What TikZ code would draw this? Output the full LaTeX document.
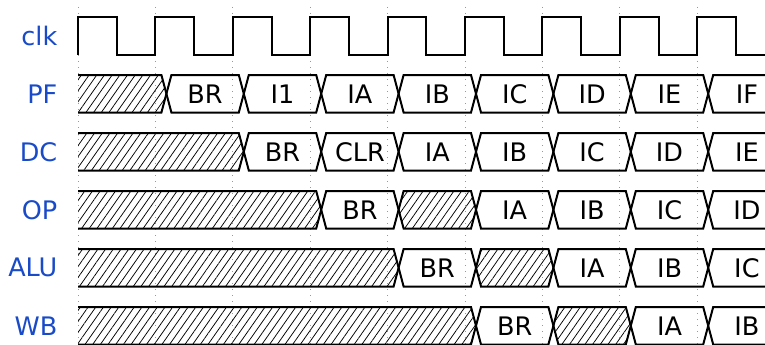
\documentclass[tikz,border=0pt]{standalone}
\usepackage{fontspec}
\setmainfont{DejaVu Sans}
\usetikzlibrary{patterns.meta}
\definecolor{lblblue}{RGB}{25,75,200}
\tikzset{
  sig/.style={line width=2pt, line join=miter},
  hatch/.style={pattern={Lines[angle=55,distance=6.3pt,line width=0.75pt]}},
  lbl/.style={text=lblblue, anchor=east, font=\fontsize{25.5}{30}\selectfont, inner sep=0pt},
  txt/.style={font=\fontsize{25.5}{30}\selectfont, inner sep=0pt},
  gridl/.style={black!40, line width=0.8pt, dash pattern=on 1pt off 5pt}
}
% data cell: #1 name, #2 top y, #3 start transition, #4 end transition, #5 label
\newcommand\dcell[5]{%
  \pgfmathsetmacro\xa{89+#3*77.4}%
  \pgfmathsetmacro\xb{89+#4*77.4}%
  \draw[sig] (\xa,#2+18.75) -- (\xa+5,#2) -- (\xb-5,#2) -- (\xb,#2+18.75) -- (\xb-5,#2+37.5) -- (\xa+5,#2+37.5) -- cycle;
  \node[txt] (#1) at ({(\xa+\xb)/2},#2+18.75) {#5};}
% hatched cell between transitions
\newcommand\hcell[3]{%
  \pgfmathsetmacro\xa{89+#2*77.4}%
  \pgfmathsetmacro\xb{89+#3*77.4}%
  \draw[sig, hatch] (\xa,#1+18.75) -- (\xa+5,#1) -- (\xb-5,#1) -- (\xb,#1+18.75) -- (\xb-5,#1+37.5) -- (\xa+5,#1+37.5) -- cycle;}
% leading hatched cell (open on the left)
\newcommand\hstart[2]{%
  \pgfmathsetmacro\xb{89+#2*77.4}%
  \fill[hatch] (78,#1) -- (\xb-5,#1) -- (\xb,#1+18.75) -- (\xb-5,#1+37.5) -- (78,#1+37.5) -- cycle;
  \draw[sig] (78,#1) -- (\xb-5,#1) -- (\xb,#1+18.75) -- (\xb-5,#1+37.5) -- (78,#1+37.5);}
\begin{document}
\begin{tikzpicture}[x=1pt,y=-1pt]
\useasboundingbox (0,0) rectangle (765,345);
\begin{scope}
\clip (0,0) rectangle (765,345);
% grid
\foreach \k in {0,...,8} \draw[gridl] ({78+\k*77.4},7) -- ({78+\k*77.4},345);
% labels
\node[lbl] (lclk) at (57.5,36) {clk};
\node[lbl] (lpf) at (57.5,93.75) {PF};
\node[lbl] (ldc) at (57.5,151.75) {DC};
\node[lbl] (lop) at (57.5,209.75) {OP};
\node[lbl] (lalu) at (57.5,267.75) {ALU};
\node[lbl] (lwb) at (57.5,325.75) {WB};
% clock
\draw[sig] (78,55) \foreach \k in {0,...,8} { -- ({78+\k*77.4},17) -- ({78+\k*77.4+38.7},17) -- ({78+\k*77.4+38.7},55) -- ({78+(\k+1)*77.4},55) };
% PF
\hstart{75}{1}
\dcell{pf1}{75}{1}{2}{BR}
\dcell{pf2}{75}{2}{3}{I1}
\dcell{pf3}{75}{3}{4}{IA}
\dcell{pf4}{75}{4}{5}{IB}
\dcell{pf5}{75}{5}{6}{IC}
\dcell{pf6}{75}{6}{7}{ID}
\dcell{pf7}{75}{7}{8}{IE}
\dcell{pf8}{75}{8}{9}{IF}
% DC
\hstart{133}{2}
\dcell{dc1}{133}{2}{3}{BR}
\dcell{dc2}{133}{3}{4}{CLR}
\dcell{dc3}{133}{4}{5}{IA}
\dcell{dc4}{133}{5}{6}{IB}
\dcell{dc5}{133}{6}{7}{IC}
\dcell{dc6}{133}{7}{8}{ID}
\dcell{dc7}{133}{8}{9}{IE}
% OP
\hstart{191}{3}
\dcell{op1}{191}{3}{4}{BR}
\hcell{191}{4}{5}
\dcell{op2}{191}{5}{6}{IA}
\dcell{op3}{191}{6}{7}{IB}
\dcell{op4}{191}{7}{8}{IC}
\dcell{op5}{191}{8}{9}{ID}
% ALU
\hstart{249}{4}
\dcell{alu1}{249}{4}{5}{BR}
\hcell{249}{5}{6}
\dcell{alu2}{249}{6}{7}{IA}
\dcell{alu3}{249}{7}{8}{IB}
\dcell{alu4}{249}{8}{9}{IC}
% WB
\hstart{307}{5}
\dcell{wb1}{307}{5}{6}{BR}
\hcell{307}{6}{7}
\dcell{wb2}{307}{7}{8}{IA}
\dcell{wb3}{307}{8}{9}{IB}
\end{scope}
\end{tikzpicture}
\end{document}
